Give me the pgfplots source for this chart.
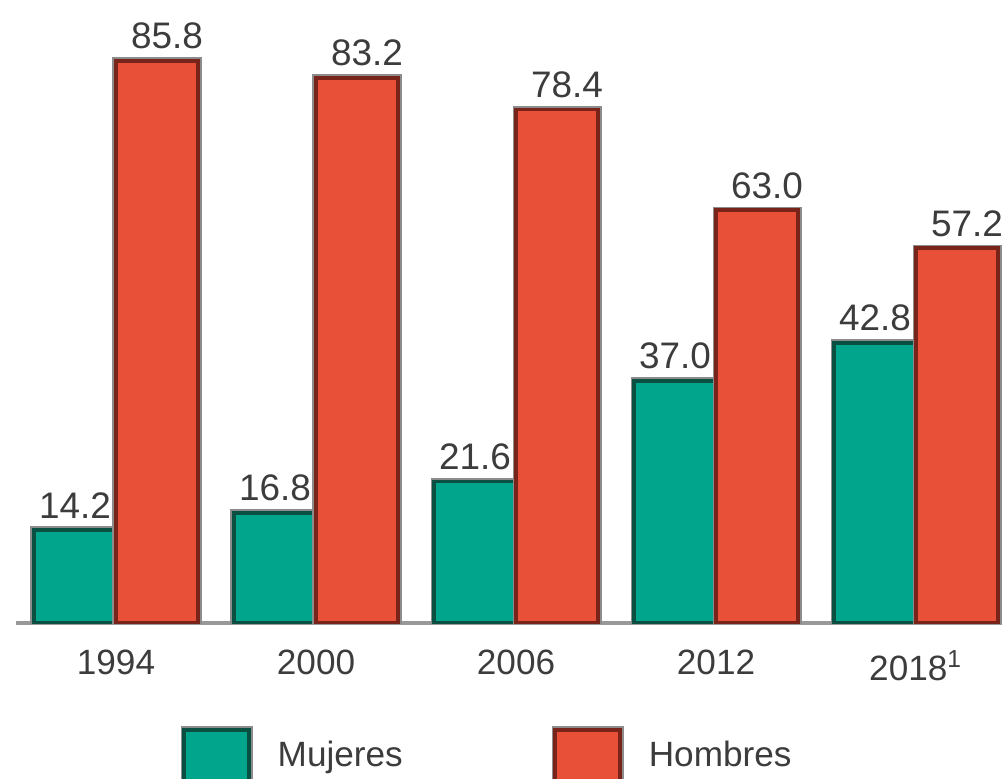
\documentclass[border=0pt]{standalone}
\usepackage{pgfplots}
\pgfplotsset{compat=1.18}
\usepackage{fontspec}
\setmainfont{Liberation Sans}
\definecolor{verde}{RGB}{0,165,140}
\definecolor{verdeO}{RGB}{10,80,66}
\definecolor{rojo}{RGB}{232,80,56}
\definecolor{rojoO}{RGB}{120,36,26}
\definecolor{txt}{RGB}{60,60,60}
\begin{document}
\begin{tikzpicture}
\useasboundingbox (0,0) rectangle (10.03,7.78);
\clip (0,0) rectangle (10.03,7.78);
\begin{axis}[
  at={(0.16cm,1.55cm)}, anchor=south west,
  x=2cm, y=0.0655cm,
  xmin=-0.5, xmax=4.43, ymin=0, ymax=95,
  axis x line=bottom, axis y line=none,
  x axis line style={draw=black!40, line width=1pt, -},
  ybar=0pt, bar width=0.41,
  xtick={0,1,2,3,4},
  xticklabels={1994,2000,2006,2012,{2018\textsuperscript{1}}},
  major tick length=0pt,
  xticklabel style={font=\fontsize{10}{12}\selectfont, text=txt, yshift=-0.15cm},
  /pgf/number format/assume math mode=true,
  nodes near coords={\pgfmathprintnumber[fixed,fixed zerofill,precision=1,assume math mode=true]{\pgfplotspointmeta}},
  nodes near coords style={font=\fontsize{10.5}{12}\selectfont, text=txt, yshift=-0.02cm},
  legend columns=2,
  legend style={at={(0.1663,-0.215)}, anchor=west, draw=none, inner sep=0pt,
    font=\fontsize{10}{12}\selectfont, text=txt,
    /tikz/every even column/.append style={column sep=1.42cm}},
  legend image code/.code={\draw[#1] (0cm,-0.27cm) rectangle (0.65cm,0.27cm);},
]
\addplot[fill=verde, draw=verdeO, line width=1.1pt,
  preaction={draw=black!45, line width=2pt}]
  coordinates {(0,14.2) (1,16.8) (2,21.6) (3,37.0) (4,42.8)};
\addplot[fill=rojo, draw=rojoO, line width=1.1pt,
  preaction={draw=black!45, line width=2pt},
  every node near coord/.append style={xshift=0.1cm}]
  coordinates {(0,85.8) (1,83.2) (2,78.4) (3,63.0) (4,57.2)};
\legend{\hspace{0.18cm}Mujeres,\hspace{0.18cm}Hombres}
\end{axis}
\end{tikzpicture}
\end{document}
